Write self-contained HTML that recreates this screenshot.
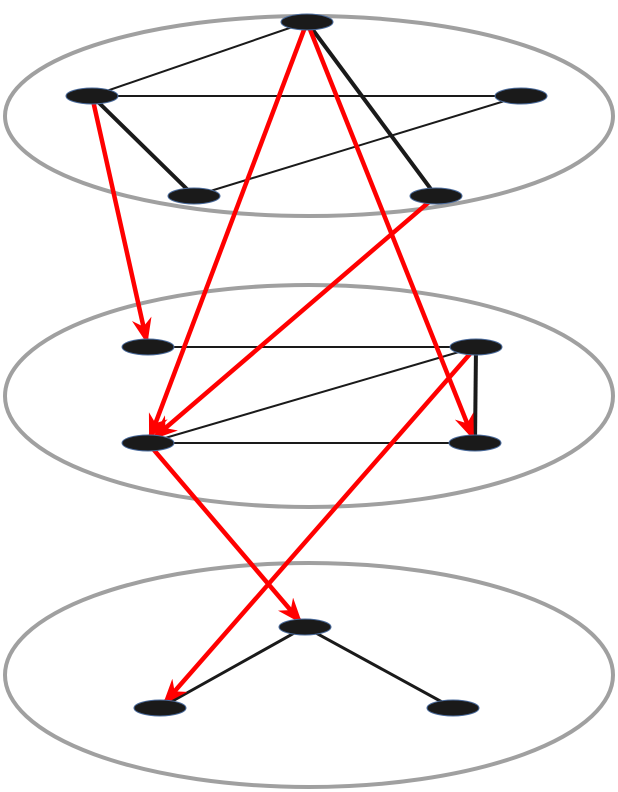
<!DOCTYPE html>
<html><head><meta charset="utf-8"><style>
html,body{margin:0;padding:0;background:#fff;width:618px;height:792px;overflow:hidden}
svg{display:block}
</style></head><body>
<svg id="chart" width="618" height="792" viewBox="0 0 618 792" xmlns="http://www.w3.org/2000/svg">
<defs>
<marker id="ah" viewBox="0 0 26 20" refX="24" refY="10" markerWidth="26" markerHeight="20" markerUnits="userSpaceOnUse" orient="auto">
<path d="M0,0 L26,10 L0,20 L8,10 Z" fill="#ff0000"/>
</marker>
</defs>
<g id="layers"></g>
<g id="edges"></g>
<g id="arrows"></g>
<g id="nodes"></g>
</svg>
<script>
const layerNames=['top-layer','middle-layer','bottom-layer'];
const layerCy=[116,396,675];
const layerRy=[100,111,112];
const nodeNames=['a','b','c','d','e','f','g','h','i','j','k','l'];
const nodeX=[307,92,521,194,436,148,476,148,475,305,160,453];
const nodeY=[22,96,96,196,196,347,347,443,443,627,708,708];
const edgeFrom=[0,0,1,1,3,5,6,7,6,9,9];
const edgeTo=[1,4,2,3,2,6,7,8,8,10,11];
const edgeWidth=[2,4,2,4,2,2,2,2,4,3,3];
const arrowFrom=[1,0,0,4,7,6];
const arrowTo=[5,7,8,7,9,10];
const NS='http://www.w3.org/2000/svg';
function mk(t,a){const e=document.createElementNS(NS,t);for(const k in a)e.setAttribute(k,a[k]);return e;}
const L=document.getElementById('layers');
layerCy.forEach((cy,i)=>{
 const e=mk('ellipse',{cx:309,cy:cy,rx:304,ry:layerRy[i],fill:'none',stroke:'#a0a0a0','stroke-width':4});
 
 
 L.appendChild(e);
});
const E=document.getElementById('edges');
edgeFrom.forEach((f,i)=>{
 const t=edgeTo[i];
 const l=mk('line',{x1:nodeX[f],y1:nodeY[f],x2:nodeX[t],y2:nodeY[t],stroke:'#1a1a1a','stroke-width':edgeWidth[i]});
 
 
 E.appendChild(l);
});
const A=document.getElementById('arrows');
arrowFrom.forEach((f,i)=>{
 const t=arrowTo[i];
 const x1=nodeX[f],y1=nodeY[f],x2=nodeX[t],y2=nodeY[t];
 const dx=x2-x1,dy=y2-y1,len=Math.hypot(dx,dy);
 const ux=dx/len,uy=dy/len;
 const trim=(ux2,uy2)=>1/Math.sqrt((ux2*ux2)/(26*26)+(uy2*uy2)/(8*8));
 const s=trim(ux,uy)*0.7, e2=trim(ux,uy)*0.6;
 const l=mk('line',{x1:x1+ux*s,y1:y1+uy*s,x2:x2-ux*e2,y2:y2-uy*e2,stroke:'#ff0000','stroke-width':4.5,'marker-end':'url(#ah)'});
 
 
 A.appendChild(l);
});
const N=document.getElementById('nodes');
nodeX.forEach((x,i)=>{
 const n=mk('ellipse',{cx:x,cy:nodeY[i],rx:26,ry:8,fill:'#1a1a1a',stroke:'#4a6a9a','stroke-width':1});
 
 
 N.appendChild(n);
});
</script>
</body></html>
